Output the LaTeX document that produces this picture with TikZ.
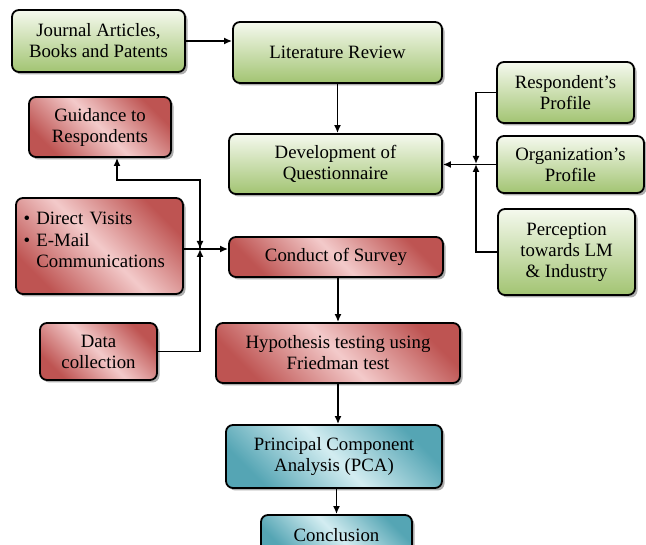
\documentclass[tikz,border=0pt]{standalone}
\usepackage{fontspec}
\setmainfont{Liberation Serif}
\usetikzlibrary{shadows,arrows.meta,calc}
\definecolor{gTop}{HTML}{F5F9EE}
\definecolor{gBot}{HTML}{A2C472}
\definecolor{rDark}{HTML}{BE5452}
\definecolor{rLight}{HTML}{F3CACA}
\definecolor{tDark}{HTML}{55A5B4}
\definecolor{tLight}{HTML}{D3EDF1}
\tikzset{
  box/.style={draw=black, line width=1.8pt, rounded corners=7pt, align=center,
    inner sep=0pt, font=\fontsize{18.8}{21}\selectfont,
    drop shadow={shadow xshift=2.5pt, shadow yshift=-2.5pt, fill=black!45, opacity=0.7}},
  gbox/.style={box, top color=gTop, bottom color=gBot},
  rbox/.style={box, top color=rDark, bottom color=rDark, middle color=rLight, shading angle=-45},
  tbox/.style={box, top color=tDark, bottom color=tDark, middle color=tLight, shading angle=-45},
  arr/.style={line width=1.6pt, -{Latex[length=8pt,width=7pt]}},
}
\begin{document}
\begin{tikzpicture}[x=1pt,y=-1pt]
\clip (0,0) rectangle (646,545);
\fill[white] (0,0) rectangle (646,545);
\node[gbox, minimum width=173, minimum height=62] (jour) at (98.5,41) {Journal Articles,\\Books and Patents};
\node[gbox, minimum width=209, minimum height=61] (lit) at (337.5,52.5) {Literature Review};
\node[rbox, minimum width=142, minimum height=60] (guid) at (100,127) {Guidance to\\Respondents};
\node[gbox, minimum width=213, minimum height=60] (dev) at (335.5,164) {Development of\\Questionnaire};
\node[gbox, minimum width=137, minimum height=61] (resp) at (565.5,92.5) {Respondent's\\Profile};
\node[gbox, minimum width=147, minimum height=57] (org) at (570.5,164.5) {Organization's\\Profile};
\node[gbox, minimum width=137, minimum height=86] (perc) at (566.5,252) {Perception\\towards LM\\\& Industry};
\node[rbox, minimum width=167, minimum height=96, align=left, text width=152] (dir) at (99.5,246)
  {\textbullet\ Direct Visits\\[1pt]\textbullet\ E-Mail\\\phantom{\textbullet\ }Communications\rule[-13pt]{0pt}{1pt}};
\node[rbox, minimum width=214, minimum height=40] (cond) at (336,257) {Conduct of Survey};
\node[rbox, minimum width=117, minimum height=57] (data) at (98.5,351.5) {Data\\collection};
\node[rbox, minimum width=244, minimum height=60] (hyp) at (338,353) {Hypothesis testing using\\Friedman test};
\node[tbox, minimum width=216, minimum height=63] (pca) at (334,456.5) {Principal Component\\Analysis (PCA)};
\node[tbox, minimum width=151, minimum height=40] (conc) at (336.5,535) {Conclusion};
\coordinate (jr) at (476,164);
\coordinate (jl) at (200,249);
\coordinate (gb) at (117,180);
\draw[arr] (jour.east) -- (lit.west |- jour.east);
\draw[arr] (lit.south) -- (lit.south |- dev.north);
\draw[arr] (resp.west) -| (jr);
\draw[arr] (perc.west) -| (jr);
\draw[arr] (org.west) -- (dev.east |- org.west);
\draw[arr] (jl) |- (gb) -- (gb |- guid.south);
\draw[arr] (jl |- gb) -- (jl);
\draw[arr] (data.east) -| (jl);
\draw[arr] (dir.east |- jl) -- (cond.west |- jl);
\draw[arr] (hyp.north |- cond.south) -- (hyp.north);
\draw[arr] (hyp.south) -- (hyp.south |- pca.north);
\draw[arr] (pca.south -| conc.north) -- (conc.north);
\end{tikzpicture}
\end{document}
